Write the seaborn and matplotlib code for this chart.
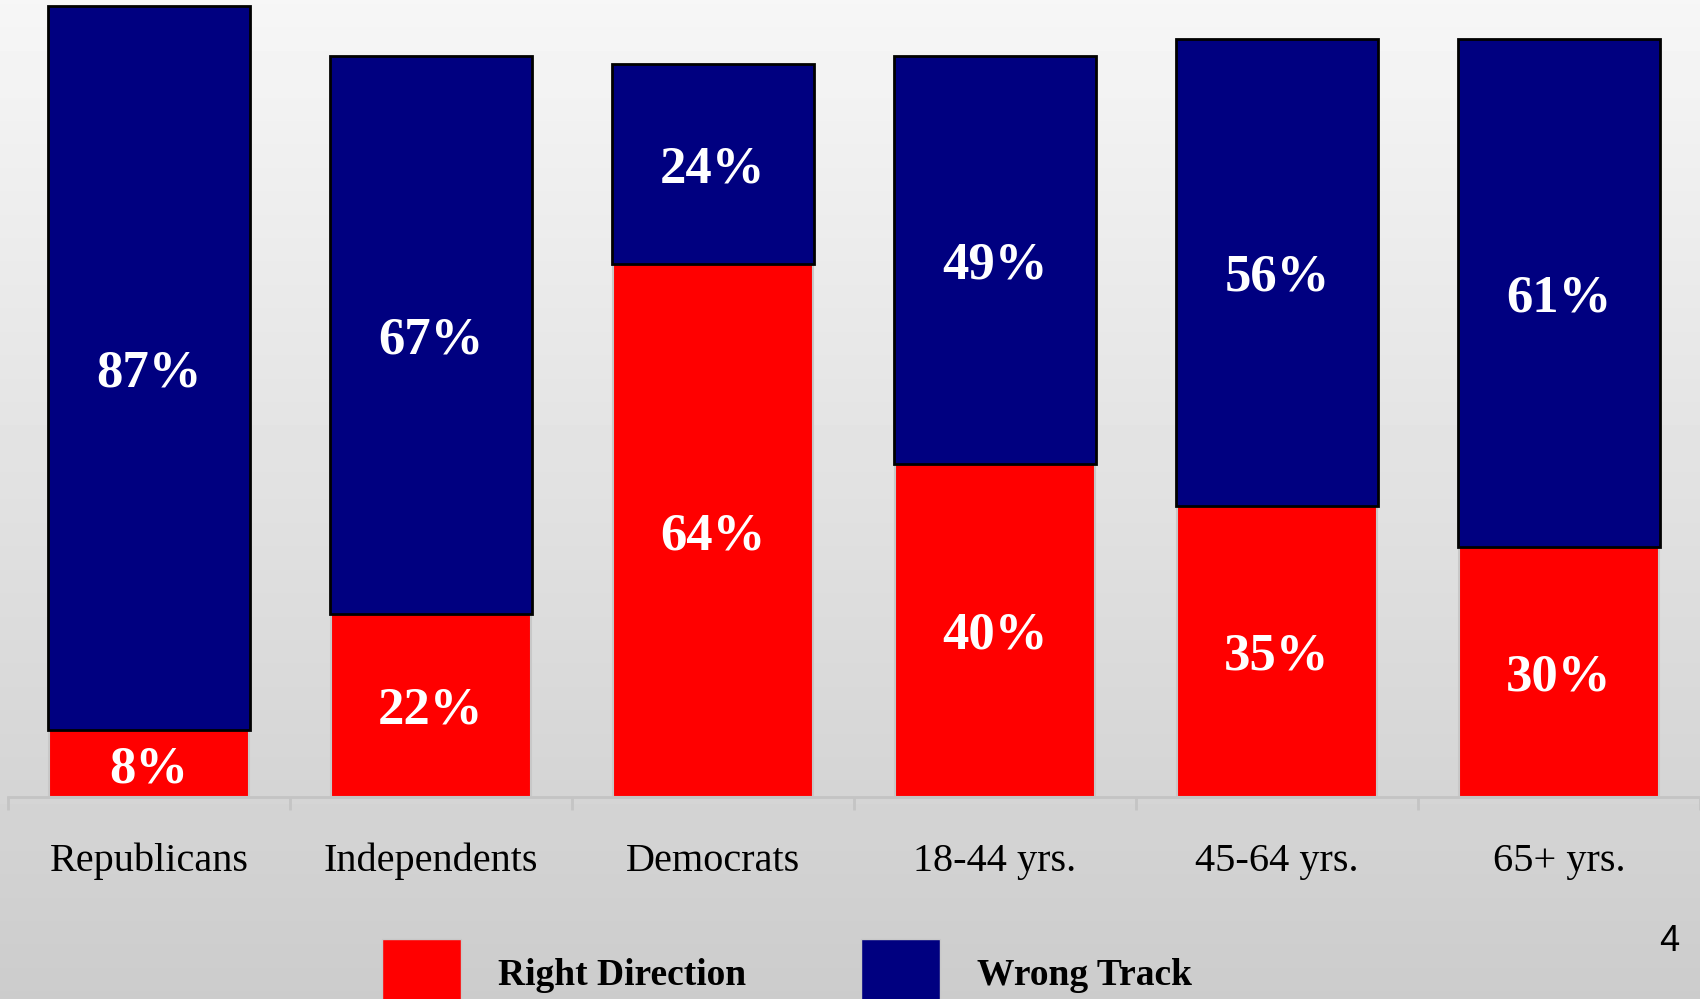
import numpy as np
import matplotlib
matplotlib.use("Agg")
import matplotlib.pyplot as plt
from matplotlib.patches import Patch
import seaborn as sns

# chart data
groups = ["Republicans", "Independents", "Democrats", "18-44 yrs.", "45-64 yrs.", "65+ yrs."]
right_direction = [8, 22, 64, 40, 35, 30]
wrong_track = [87, 67, 24, 49, 56, 61]

sns.set_style("white")
plt.rcParams["font.family"] = ["Liberation Serif", "DejaVu Serif"]
plt.rcParams["text.color"] = "black"

fig = plt.figure(figsize=(17, 9.99), dpi=100)

# grey gradient background
bg = fig.add_axes([0, 0, 1, 1], zorder=-10)
grad = np.linspace(0.965, 0.80, 256).reshape(-1, 1)
bg.imshow(grad, aspect="auto", cmap="gray", vmin=0, vmax=1, extent=[0, 1, 0, 1])
bg.axis("off")

ax = fig.add_axes([8 / 1700, 0.2022, 1 - 8 / 1700, 0.7978])
ax.set_facecolor("none")

# red bars (right direction)
sns.barplot(x=groups, y=right_direction, color="#ff0000", width=0.71,
            edgecolor="#c8c8c8", linewidth=1.5, saturation=1, ax=ax)
n_red = len(ax.patches)
# navy bars (wrong track), stacked on top of the red ones
sns.barplot(x=groups, y=wrong_track, color="#000080", width=0.715,
            edgecolor="black", linewidth=2, saturation=1, ax=ax)
for patch, base in zip(ax.patches[n_red:], right_direction):
    patch.set_y(base)

# value labels
for i, (r, w) in enumerate(zip(right_direction, wrong_track)):
    ax.text(i, r / 2, f"{r}%", ha="center", va="center_baseline", color="white",
            fontsize=38, fontweight="bold")
    ax.text(i, r + w / 2, f"{w}%", ha="center", va="center_baseline", color="white",
            fontsize=38, fontweight="bold")

ax.set_xlim(-0.5, len(groups) - 0.5)
ax.set_ylim(0, 95.7)
ax.set_yticks([])
for s in ["top", "left", "right"]:
    ax.spines[s].set_visible(False)
ax.spines["bottom"].set_color("#c4c4c4")
ax.spines["bottom"].set_linewidth(2)

ax.set_xticks(range(len(groups)))
ax.set_xticklabels(groups, fontsize=29, color="black")
ax.tick_params(axis="x", which="major", length=0, pad=33)
ax.set_xticks(np.arange(-0.5, len(groups), 1), minor=True)
ax.tick_params(axis="x", which="minor", bottom=True, length=9, width=2,
               color="#c4c4c4", direction="out")

# legend
handles = [Patch(facecolor="#ff0000", edgecolor="#c8c8c8", label="Right Direction"),
           Patch(facecolor="#000080", edgecolor="#c8c8c8", label="Wrong Track")]
fig.legend(handles=handles, loc="center", bbox_to_anchor=(0.463, 0.025), ncol=2,
           frameon=False, labelcolor="black",
           prop={"family": "Liberation Serif", "weight": "bold", "size": 27},
           handlelength=2.1, handleheight=2.5, handletextpad=1.0, columnspacing=3.05)

# page number
fig.text(0.988, 0.058, "4", fontsize=26, family="Liberation Sans", color="black",
         ha="right", va="center")

fig.savefig("out.png", dpi=100)
